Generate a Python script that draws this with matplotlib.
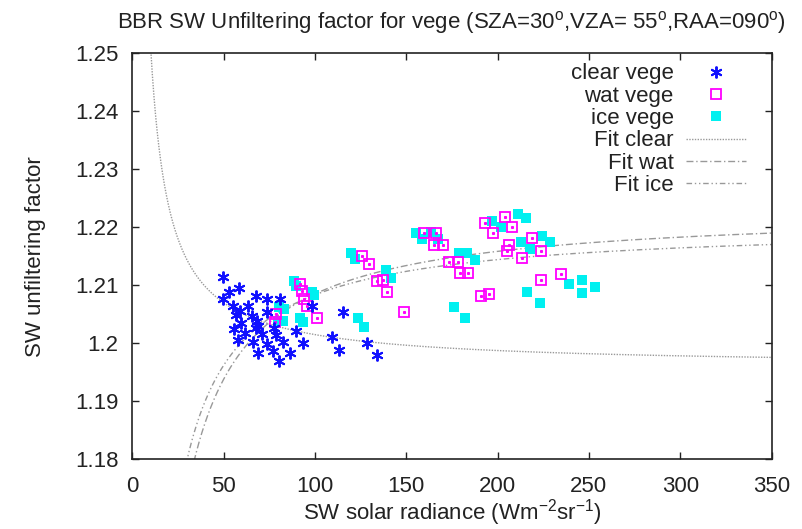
import numpy as np
import matplotlib
matplotlib.use("Agg")
import matplotlib.pyplot as plt

plt.rcParams["font.family"] = ["Liberation Sans", "DejaVu Sans"]
plt.rcParams["mathtext.fontset"] = "custom"
plt.rcParams["mathtext.rm"] = "Liberation Sans"
plt.rcParams["mathtext.it"] = "Liberation Sans"

# clear vege (blue asterisks)
clear_x = [49.4, 49.8, 53.1, 58.4, 54.9, 63.1, 67.7, 73.7, 81.0, 56.7,
           58.9, 65.3, 59.5, 68.1, 73.5, 68.8, 55.6, 61.7, 67.7, 71.2,
           77.6, 78.7, 57.7, 66.2, 73.7, 82.7, 69.0, 77.0, 86.3, 80.5,
           89.6, 93.3, 98.2, 109.2, 113.3, 115.5, 128.7, 133.8]
clear_y = [1.2114, 1.2077, 1.2088, 1.2095, 1.2065, 1.2065, 1.2081, 1.2076, 1.2077, 1.2048,
           1.2056, 1.2047, 1.2035, 1.2038, 1.2054, 1.2030, 1.2024, 1.2017, 1.2026, 1.2016,
           1.2026, 1.2015, 1.2005, 1.2003, 1.1999, 1.2002, 1.1984, 1.1987, 1.1984, 1.1969,
           1.2021, 1.2001, 1.2065, 1.2010, 1.1988, 1.2054, 1.2001, 1.1980]

# wat vege (magenta open squares)
wat_x = [78.7, 78.1, 91.8, 92.9, 94.0, 95.6, 101.1, 125.6, 129.6, 133.8,
         137.3, 139.3, 148.8, 159.9, 166.3, 165.2, 169.9, 173.6, 178.1, 179.4,
         184.0, 190.9, 195.5, 192.9, 203.9, 207.9, 197.5, 218.6, 206.3, 205.3,
         213.2, 224.0, 223.8, 234.8]
wat_y = [1.2051, 1.2037, 1.2102, 1.2090, 1.2076, 1.2064, 1.2044, 1.2151, 1.2136, 1.2107,
         1.2109, 1.2088, 1.2054, 1.2190, 1.2190, 1.2169, 1.2170, 1.2141, 1.2141, 1.2122,
         1.2122, 1.2082, 1.2085, 1.2208, 1.2218, 1.2201, 1.2191, 1.2182, 1.2169, 1.2160,
         1.2147, 1.2160, 1.2109, 1.2119]

# ice vege (cyan filled squares)
ice_x = [80.3, 83.0, 79.8, 82.5, 88.5, 89.6, 91.8, 93.3, 98.1, 99.3,
         119.6, 121.9, 138.9, 141.6, 123.3, 127.1, 155.3, 158.5, 163.3, 167.1,
         178.6, 183.0, 187.4, 176.3, 182.4, 197.0, 201.6, 210.9, 215.6, 212.9,
         217.8, 224.1, 228.7, 216.1, 223.1, 239.3, 246.4, 246.3, 253.4]
ice_y = [1.2063, 1.2059, 1.2038, 1.2038, 1.2107, 1.2099, 1.2044, 1.2037, 1.2089, 1.2083,
         1.2155, 1.2145, 1.2126, 1.2112, 1.2044, 1.2028, 1.2191, 1.2179, 1.2192, 1.2179,
         1.2155, 1.2155, 1.2143, 1.2063, 1.2044, 1.2211, 1.2201, 1.2223, 1.2216, 1.2175,
         1.2162, 1.2185, 1.2175, 1.2088, 1.2069, 1.2102, 1.2109, 1.2087, 1.2097]

# fit coefficients, f(x) = a + b / x
fit_clear = (1.1960, 0.5495)
fit_wat = (1.2232, -1.469)
fit_ice = (1.2205, -1.214)

title = "BBR SW Unfiltering factor for vege (SZA=30$^\\mathrm{o}$,VZA= 55$^\\mathrm{o}$,RAA=090$^\\mathrm{o}$)"

fig = plt.figure(figsize=(8.02, 5.29), dpi=100)
ax = fig.add_axes([0.1651, 0.1318, 0.7969, 0.7674])

ax.plot(clear_x, clear_y, linestyle="none", marker=(6, 2, 0), markersize=8.5,
        markeredgewidth=1.4, color="#1010ff", label="clear vege", zorder=4)
ax.plot(wat_x, wat_y, linestyle="none", marker="s", markersize=6.5,
        markerfacecolor="none", markeredgewidth=1.3, markeredgecolor="#ff00ff",
        label="wat vege", zorder=3)
ax.plot(wat_x, wat_y, linestyle="none", marker="s", markersize=1.2,
        color="#ff00ff", zorder=3)
ax.plot(ice_x, ice_y, linestyle="none", marker="s", markersize=7.5,
        color="#00f0f0", markeredgewidth=0, label="ice vege", zorder=2)

xf = np.linspace(1, 350, 2000)
for (a, b), ls, lab in [
    (fit_clear, (0, (1, 1)), "Fit clear"),
    (fit_wat, (0, (5, 2, 1, 2)), "Fit wat"),
    (fit_ice, (0, (4, 2, 1, 2, 1, 2)), "Fit ice"),
]:
    ax.plot(xf, a + b / xf, color="#999999", linewidth=1.0, linestyle=ls, label=lab, zorder=1)

ax.set_xlim(0, 350)
ax.set_ylim(1.18, 1.25)
ax.set_xticks(np.arange(0, 351, 50))
ax.set_yticks([1.18, 1.19, 1.2, 1.21, 1.22, 1.23, 1.24, 1.25])
ax.set_yticklabels(["1.18", "1.19", "1.2", "1.21", "1.22", "1.23", "1.24", "1.25"])
ax.tick_params(direction="in", length=5, width=1, top=True, right=True,
               labelsize=16, colors="#222222")
ax.tick_params(axis="x", pad=12)
ax.tick_params(axis="y", pad=10)
for s in ax.spines.values():
    s.set_linewidth(1.2)
    s.set_color("#222222")

ax.set_title(title, fontsize=16, color="#222222", pad=18)
ax.set_xlabel("SW solar radiance (Wm$^{-2}$sr$^{-1}$)", fontsize=16, color="#222222", labelpad=0)
ax.set_ylabel("SW unfiltering factor", fontsize=16, color="#222222", labelpad=21)

leg = ax.legend(loc="upper right", bbox_to_anchor=(0.96, 0.975), frameon=False,
                markerfirst=False, fontsize=16, handlelength=2.7, handletextpad=0.55,
                labelspacing=0.06, borderpad=0, borderaxespad=0)
for t in leg.get_texts():
    t.set_color("#222222")

fig.savefig("out.png", dpi=100)
